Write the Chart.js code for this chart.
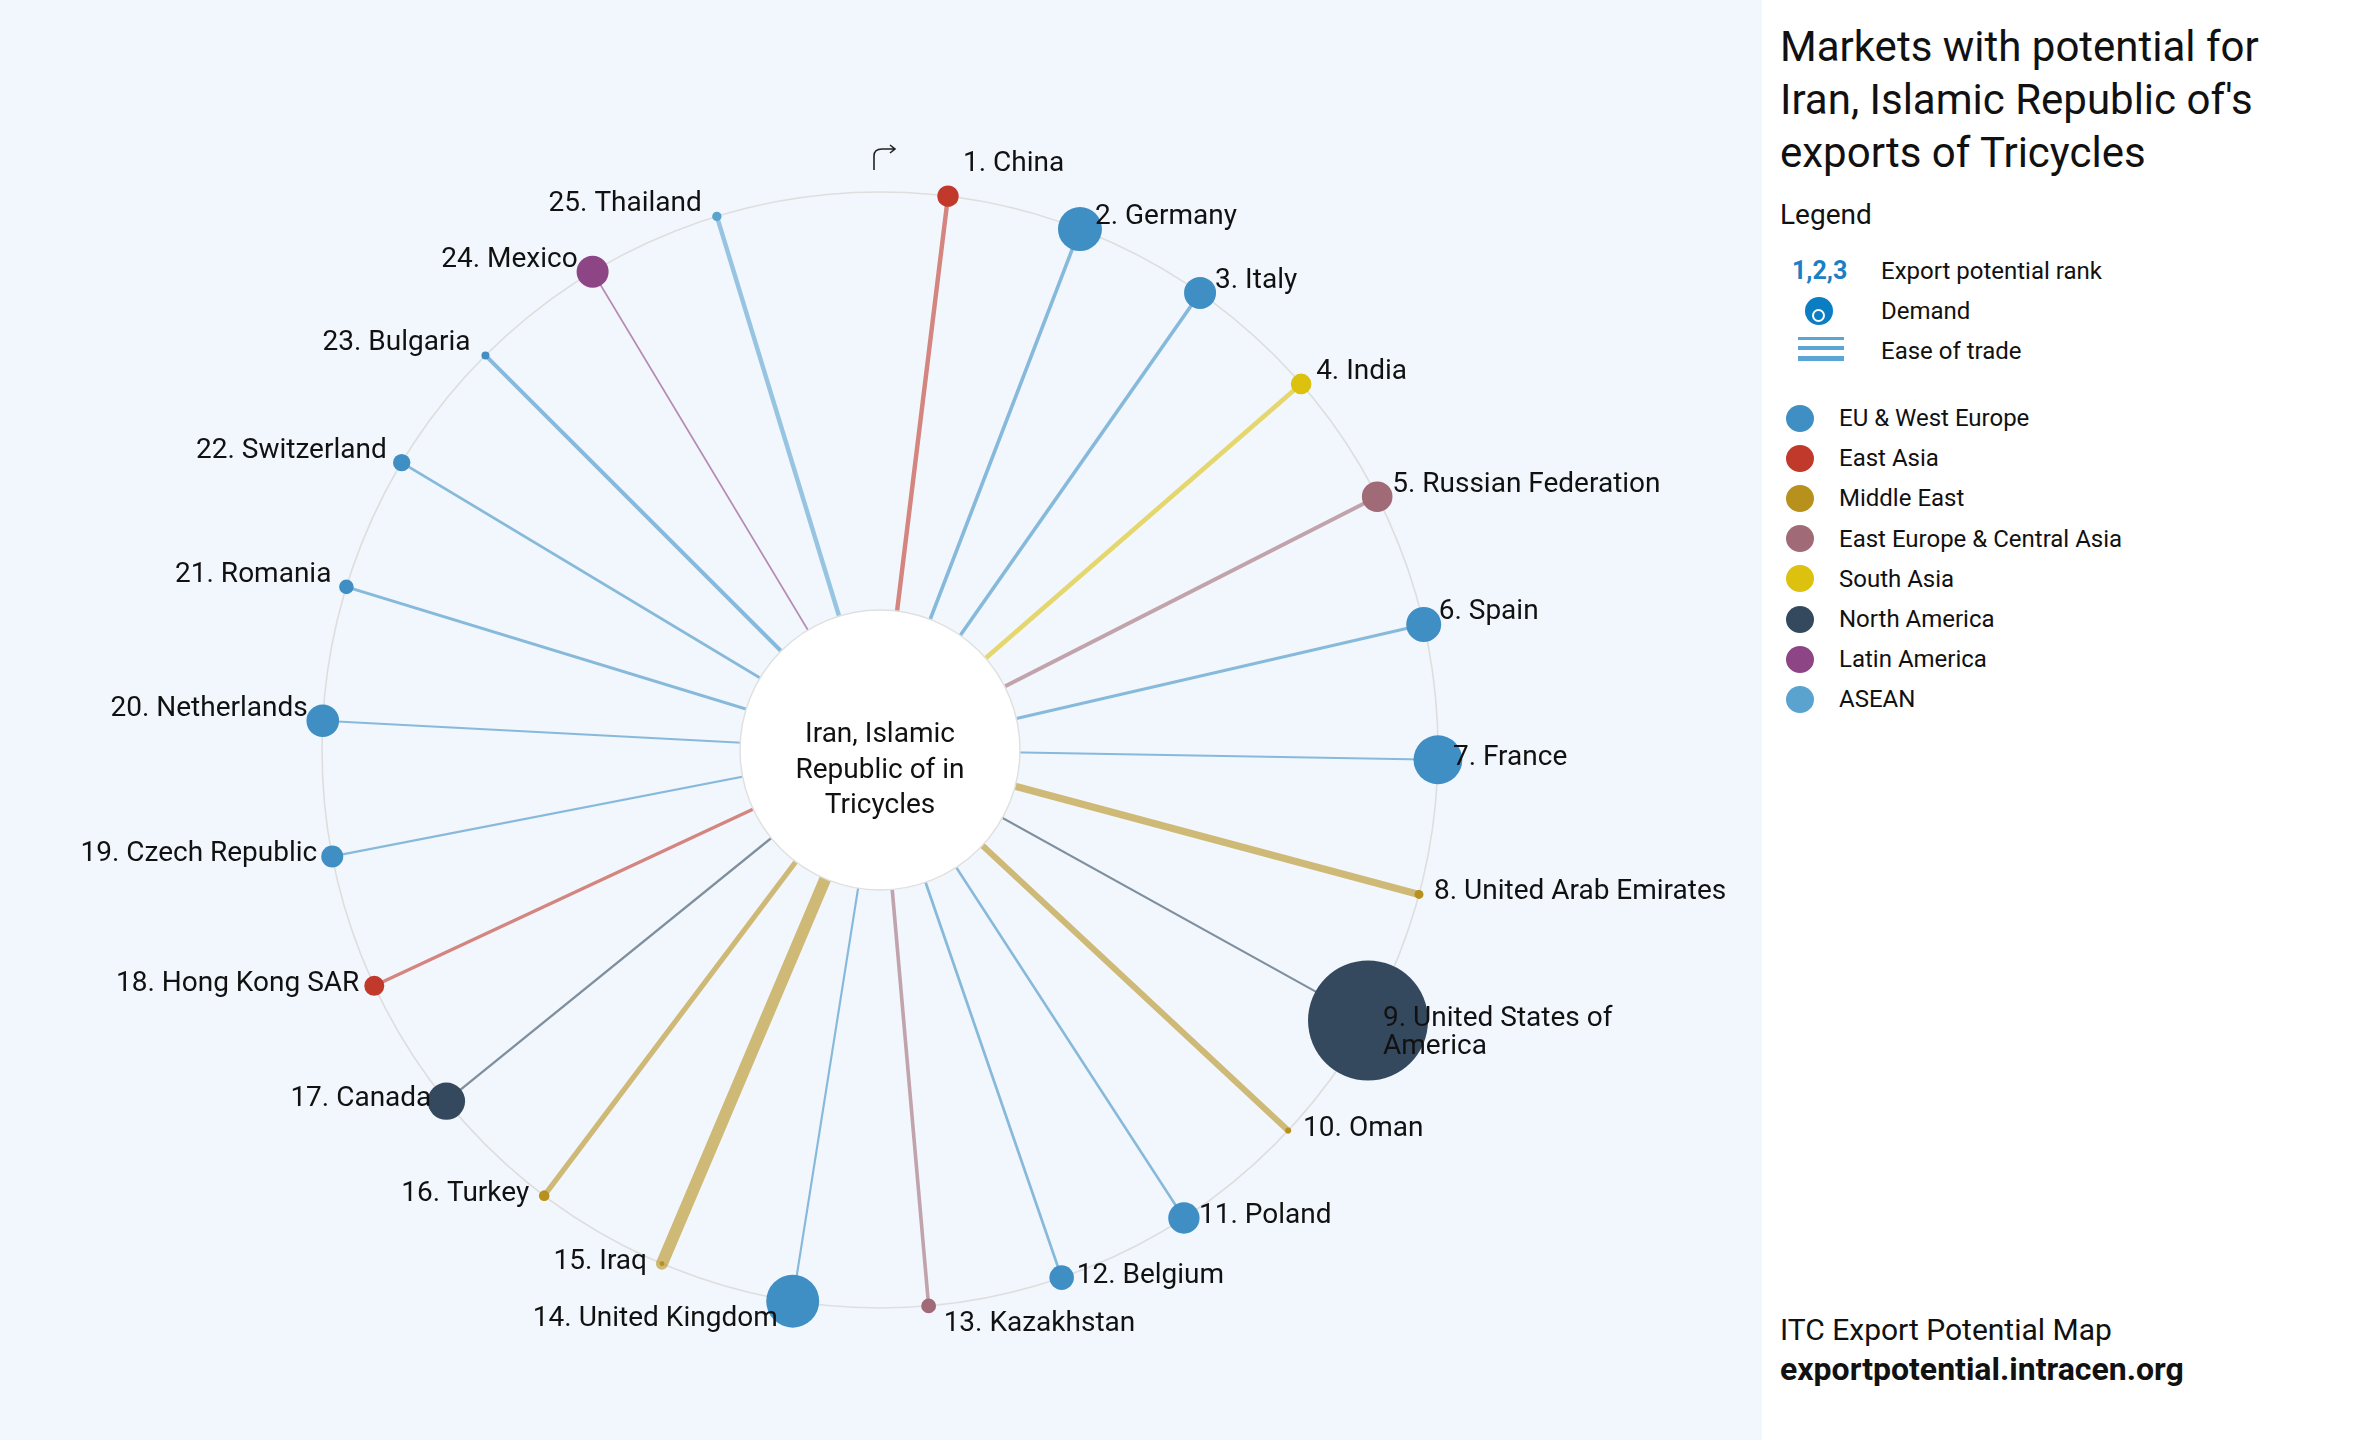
<!DOCTYPE html>
<html>
<head>
<meta charset="utf-8">
<script src="https://cdn.jsdelivr.net/npm/chart.js@4.4.1/dist/chart.umd.min.js"></script>
<style>
  html, body { margin: 0; padding: 0; width: 2360px; height: 1440px; overflow: hidden; background: #fff; font-family: Roboto, "Noto Sans", sans-serif; color: #111; }
  #left { position: absolute; left: 0; top: 0; width: 1762px; height: 1440px; background: #f2f7fd; }
  #side { position: absolute; left: 1780px; top: 0; width: 560px; height: 1440px; }
  .abs { position: absolute; white-space: nowrap; }
  #title { top: 20px; left: 0; font-size: 42px; line-height: 53px; white-space: normal; width: 560px; }
  #legendHead { top: 198px; left: 0; font-size: 28px; }
  .row { font-size: 24px; line-height: 30px; }
  .dot { position: absolute; width: 28px; height: 27px; border-radius: 50%; }
  #foot1 { top: 1312px; left: 0; font-size: 30px; }
  #foot2 { top: 1350px; left: 0; font-size: 32px; font-weight: bold; }
</style>
</head>
<body>
<div id="left"><canvas id="myChart" width="1762" height="1440"></canvas></div>
<div id="side">
  <div id="title" class="abs">Markets with potential for Iran, Islamic Republic of's exports of Tricycles</div>
  <div id="legendHead" class="abs">Legend</div>
  <div class="abs row" style="top:256px;left:12px;color:#1a80c4;font-weight:bold;font-size:25px;">1,2,3</div>
  <div class="abs row" style="top:256px;left:101px;">Export potential rank</div>
  <div class="abs" style="top:297px;left:25px;width:28px;height:28px;border-radius:50%;background:#0b7dc3;">
    <div style="position:absolute;left:7px;top:12px;width:9px;height:9px;border:2.5px solid #fff;border-radius:50%;"></div>
  </div>
  <div class="abs row" style="top:296px;left:101px;">Demand</div>
  <div class="abs" style="top:337px;left:18px;width:46px;height:3px;background:#5aa5d6;"></div>
  <div class="abs" style="top:346px;left:18px;width:46px;height:4px;background:#5aa5d6;"></div>
  <div class="abs" style="top:356px;left:18px;width:46px;height:5px;background:#5aa5d6;"></div>
  <div class="abs row" style="top:336px;left:101px;">Ease of trade</div>
  <div id="regionLegend"></div>
  <div id="foot1" class="abs">ITC Export Potential Map</div>
  <div id="foot2" class="abs">exportpotential.intracen.org</div>
</div>
<script>
// markets in order of export potential rank
const ranks = [1, 2, 3, 4, 5, 6, 7, 8, 9, 10, 11, 12, 13, 14, 15, 16, 17, 18, 19, 20, 21, 22, 23, 24, 25];
const markets = ['China', 'Germany', 'Italy', 'India', 'Russian Federation', 'Spain', 'France',
  'United Arab Emirates', 'United States of America', 'Oman', 'Poland', 'Belgium', 'Kazakhstan',
  'United Kingdom', 'Iraq', 'Turkey', 'Canada', 'Hong Kong SAR', 'Czech Republic', 'Netherlands',
  'Romania', 'Switzerland', 'Bulgaria', 'Mexico', 'Thailand'];
const marketRegion = ['East Asia', 'EU & West Europe', 'EU & West Europe', 'South Asia',
  'East Europe & Central Asia', 'EU & West Europe', 'EU & West Europe', 'Middle East', 'North America',
  'Middle East', 'EU & West Europe', 'EU & West Europe', 'East Europe & Central Asia', 'EU & West Europe',
  'Middle East', 'Middle East', 'North America', 'East Asia', 'EU & West Europe', 'EU & West Europe',
  'EU & West Europe', 'EU & West Europe', 'EU & West Europe', 'Latin America', 'ASEAN'];
// demand (bubble area) and ease of trade (spoke width)
const demand = [114, 484, 256, 106, 234, 306, 595, 20, 3600, 9, 246, 151, 55, 702, 6, 28, 350, 100, 121, 266, 53, 76, 16, 256, 22];
const easeOfTrade = [37, 30, 30, 39, 33, 25, 17, 61, 17, 50, 21, 23, 30, 18, 100, 43, 19, 28, 19, 17, 25, 23, 33, 14, 37];

const regionNames = ['EU & West Europe', 'East Asia', 'Middle East', 'East Europe & Central Asia',
  'South Asia', 'North America', 'Latin America', 'ASEAN'];
const regionColors = ['#3f8fc5', '#c0392b', '#b8901c', '#a06b76', '#dcc10e', '#34495e', '#8e4585', '#5aa3cf'];

const exporterLabel = ['Iran, Islamic', 'Republic of in', 'Tricycles'];

// layout of the radial chart (pixels)
const CX = 880, CY = 750, R = 558, INNER_R = 140;
const START_DEG = 7, STEP_DEG = 14;
const W = 1762, H = 1440;

function colorOf(i) { return regionColors[regionNames.indexOf(marketRegion[i])]; }
function alpha(hex, a) {
  const n = parseInt(hex.slice(1), 16);
  return 'rgba(' + (n >> 16) + ',' + ((n >> 8) & 255) + ',' + (n & 255) + ',' + a + ')';
}
function angleOf(i) { return (START_DEG + (ranks[i] - 1) * STEP_DEG) * Math.PI / 180; }

// region legend
const rl = document.getElementById('regionLegend');
regionNames.forEach((name, k) => {
  const y = 418 + k * 40.2;
  rl.innerHTML += '<div class="dot" style="left:6px;top:' + (y - 13.5) + 'px;background:' + regionColors[k] + '"></div>' +
    '<div class="abs row" style="left:59px;top:' + (y - 15) + 'px">' + name + '</div>';
});

const spokes = markets.map((m, i) => ({
  type: 'line',
  order: 2,
  data: [{ x: 0, y: 0 }, { x: Math.sin(angleOf(i)), y: Math.cos(angleOf(i)) }],
  borderColor: alpha(colorOf(i), 0.6),
  borderWidth: easeOfTrade[i] * 0.12,
  borderCapStyle: 'round',
  pointRadius: 0
}));

const bubbles = {
  type: 'bubble',
  order: 0,
  data: markets.map((m, i) => ({ x: Math.sin(angleOf(i)), y: Math.cos(angleOf(i)), r: Math.sqrt(demand[i]) })),
  backgroundColor: markets.map((m, i) => colorOf(i)),
  borderWidth: 0,
  hoverBorderWidth: 0
};

function wrap(ctx, text, maxW) {
  const words = text.split(' ');
  const lines = [];
  let cur = '';
  words.forEach(w => {
    const t = cur ? cur + ' ' + w : w;
    if (ctx.measureText(t).width > maxW && cur) { lines.push(cur); cur = w; } else cur = t;
  });
  lines.push(cur);
  return lines;
}

const radialPlugin = {
  id: 'radial',
  beforeDatasetsDraw(chart) {
    const ctx = chart.ctx;
    const cx = chart.scales.x.getPixelForValue(0), cy = chart.scales.y.getPixelForValue(0);
    const r = chart.scales.x.getPixelForValue(1) - cx;
    ctx.save();
    ctx.strokeStyle = '#dedede';
    ctx.lineWidth = 1.6;
    ctx.beginPath();
    ctx.arc(cx, cy, r, 0, Math.PI * 2);
    ctx.stroke();
    ctx.restore();
  },
  afterDatasetsDraw(chart) {
    const ctx = chart.ctx;
    const cx = chart.scales.x.getPixelForValue(0), cy = chart.scales.y.getPixelForValue(0);
    ctx.save();
    // exporter in the middle
    ctx.fillStyle = '#fff';
    ctx.strokeStyle = '#e0e0e0';
    ctx.lineWidth = 1.5;
    ctx.beginPath();
    ctx.arc(cx, cy, INNER_R, 0, Math.PI * 2);
    ctx.fill();
    ctx.stroke();
    ctx.fillStyle = '#111';
    ctx.font = '28px Roboto';
    ctx.textAlign = 'center';
    ctx.textBaseline = 'alphabetic';
    exporterLabel.forEach((t, k) => ctx.fillText(t, cx, cy - 8 + k * 35.5));

    // market labels
    const meta = chart.getDatasetMeta(0);
    meta.data.forEach((pt, i) => {
      const deg = (START_DEG + (ranks[i] - 1) * STEP_DEG) % 360;
      const right = deg < 180;
      let dy = (deg < 90 || deg > 270) ? -5 : 5;
      if (deg < 10 || deg > 350) dy = -25;
      if (Math.abs(deg - 180) < 10) dy = 25;
      ctx.textAlign = right ? 'left' : 'right';
      const lines = wrap(ctx, ranks[i] + '. ' + markets[i], 300);
      lines.forEach((t, k) => ctx.fillText(t, pt.x + (right ? 15 : -15), pt.y + dy + k * 28));
    });

    // rotation arrow at the top
    ctx.strokeStyle = '#222';
    ctx.lineWidth = 1.6;
    ctx.beginPath();
    ctx.moveTo(cx - 6, cy - 580);
    ctx.lineTo(cx - 6, cy - 594);
    ctx.quadraticCurveTo(cx - 6, cy - 601, cx + 2, cy - 601);
    ctx.lineTo(cx + 15, cy - 601);
    ctx.moveTo(cx + 10, cy - 605);
    ctx.lineTo(cx + 15, cy - 601);
    ctx.lineTo(cx + 10, cy - 597);
    ctx.stroke();
    ctx.restore();
  }
};

const chart = document.getElementById('myChart');
const myChart = new Chart(chart, {
  type: 'scatter',
  data: { datasets: [bubbles].concat(spokes) },
  options: {
    responsive: false,
    animation: false,
    events: [],
    layout: { padding: 0, autoPadding: false },
    plugins: { legend: { display: false }, tooltip: { enabled: false } },
    scales: {
      x: { display: false, min: -CX / R, max: (W - CX) / R },
      y: { display: false, min: -(H - CY) / R, max: CY / R }
    }
  },
  plugins: [radialPlugin]
});
</script>
</body>
</html>
